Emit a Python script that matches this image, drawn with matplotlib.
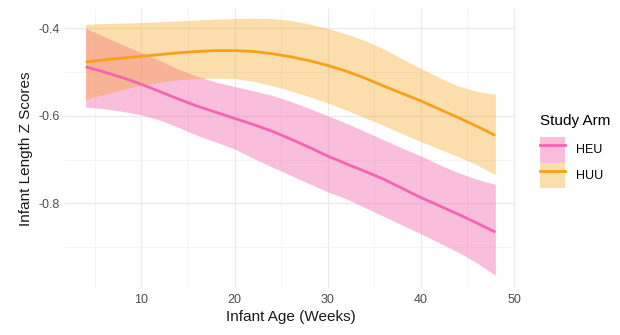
import numpy as np
import matplotlib.pyplot as plt
from matplotlib.patches import Patch
from matplotlib.lines import Line2D
from matplotlib.ticker import MultipleLocator

plt.rcParams['font.family'] = ['Liberation Sans', 'DejaVu Sans']

weeks = [4, 6, 8, 10, 12, 14, 16, 18, 20, 22, 24, 26,
         28, 30, 32, 34, 36, 38, 40, 42, 44, 46, 48]

# HEU arm: fit and confidence band
heu_fit = [-0.488, -0.500, -0.513, -0.528, -0.545, -0.562, -0.578, -0.592, -0.606, -0.620, -0.635, -0.653,
           -0.672, -0.692, -0.710, -0.727, -0.745, -0.766, -0.787, -0.806, -0.825, -0.845, -0.866]
heu_hi = [-0.400, -0.419, -0.438, -0.456, -0.474, -0.494, -0.510, -0.523, -0.533, -0.543, -0.553, -0.567,
          -0.583, -0.600, -0.617, -0.636, -0.655, -0.674, -0.692, -0.712, -0.730, -0.745, -0.757]
heu_lo = [-0.580, -0.584, -0.590, -0.598, -0.610, -0.627, -0.645, -0.660, -0.676, -0.697, -0.717, -0.736,
          -0.755, -0.774, -0.790, -0.810, -0.830, -0.850, -0.870, -0.891, -0.912, -0.936, -0.965]

# HUU arm: fit and confidence band
huu_fit = [-0.477, -0.472, -0.468, -0.464, -0.460, -0.456, -0.453, -0.451, -0.451, -0.453, -0.458, -0.465,
           -0.474, -0.485, -0.498, -0.514, -0.532, -0.549, -0.566, -0.585, -0.604, -0.624, -0.645]
huu_hi = [-0.391, -0.389, -0.388, -0.387, -0.385, -0.383, -0.381, -0.379, -0.378, -0.377, -0.378, -0.382,
          -0.390, -0.400, -0.413, -0.428, -0.447, -0.470, -0.492, -0.513, -0.532, -0.544, -0.551]
huu_lo = [-0.563, -0.551, -0.540, -0.530, -0.523, -0.518, -0.515, -0.514, -0.515, -0.521, -0.531, -0.543,
          -0.556, -0.571, -0.587, -0.605, -0.622, -0.641, -0.659, -0.676, -0.693, -0.712, -0.735]

arms = ['HEU', 'HUU']
line_cols = ['#F564B0', '#F7A11A']
fill_alpha = [0.42, 0.36]

fig = plt.figure(figsize=(6.2, 3.35), dpi=100)
ax = fig.add_axes([0.105, 0.140, 0.727, 0.833])

series = [(heu_fit, heu_lo, heu_hi), (huu_fit, huu_lo, huu_hi)]
handles = []
for (fit, lo, hi), col, a in zip(series, line_cols, fill_alpha):
    ax.fill_between(weeks, lo, hi, color=col, alpha=a, linewidth=0)
for (fit, lo, hi), col, a in zip(series, line_cols, fill_alpha):
    ax.plot(weeks, fit, color=col, linewidth=2, solid_capstyle='butt')
    handles.append((Patch(facecolor=col, alpha=a, linewidth=0),
                    Line2D([], [], color=col, linewidth=2)))

ax.set_xlim(1.8, 50.2)
ax.set_ylim(-0.994, -0.356)
ax.xaxis.set_minor_locator(MultipleLocator(5))
ax.yaxis.set_minor_locator(MultipleLocator(0.1))
ax.set_xticks([10, 20, 30, 40, 50])
ax.set_yticks([-0.8, -0.6, -0.4])
ax.set_yticklabels(['-0.8', '-0.6', '-0.4'])

ax.grid(which='major', color='#EBEBEB', linewidth=1.0)
ax.grid(which='minor', color='#F2F2F2', linewidth=0.6)
ax.set_axisbelow(True)
for s in ax.spines.values():
    s.set_visible(False)
ax.tick_params(which='both', length=0, labelsize=9, labelcolor='#4D4D4D', pad=4)

ax.set_xlabel('Infant Age (Weeks)', fontsize=11, color='#1A1A1A', labelpad=3)
ax.set_ylabel('Infant Length Z Scores', fontsize=11, color='#1A1A1A', labelpad=4)

leg = ax.legend(handles, arms, title='Study Arm', loc='center left',
                bbox_to_anchor=(1.04, 0.49), frameon=False, fontsize=9,
                title_fontsize=11, handlelength=2.0, handleheight=2.8,
                handletextpad=0.9, labelspacing=0.0, borderpad=0)
leg._legend_box.align = 'left'
leg._legend_box.sep = 6

fig.savefig('out.png', dpi=100)
